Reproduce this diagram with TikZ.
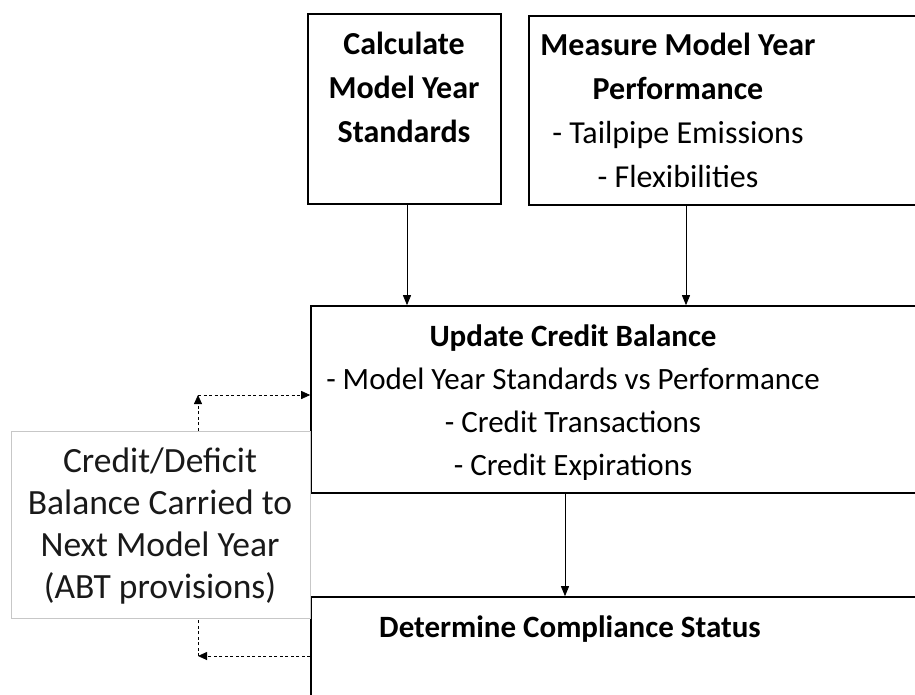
\documentclass[tikz,border=0pt]{standalone}
\usepackage{fontspec}
\setmainfont{Carlito}
\usetikzlibrary{arrows.meta}

\tikzset{
    box/.style={draw, line width=1.6pt, inner sep=0pt},
    notebox/.style={draw=black!22, line width=0.8pt, inner sep=0pt},
    toptext/.style={font=\fontsize{32}{44}\selectfont, align=center, inner sep=0pt, anchor=base},
    midtext/.style={font=\fontsize{31}{43}\selectfont, align=center, inner sep=0pt, anchor=base},
    notetext/.style={font=\fontsize{35.5}{42}\selectfont, align=center, inner sep=0pt, anchor=base, text=black!90},
    flow/.style={-{Triangle[length=10pt,width=8pt]}, line width=0.8pt},
    carry/.style={dashed, line width=0.8pt, dash pattern=on 3pt off 2.5pt}
}

\begin{document}
\begin{tikzpicture}[x=1pt, y=-1pt]

    \useasboundingbox (0,0) rectangle (915,694);
    \clip (0,0) rectangle (915,694);

    % boxes
    \node[box, minimum width=193, minimum height=190] (calc) at (404.5,109) {};
    \node[box, minimum width=401, minimum height=189] (meas) at (729.5,110.5) {};
    \node[box, minimum width=619, minimum height=187] (upd) at (620.5,399.5) {};
    \node[box, minimum width=619, minimum height=123] (comp) at (620.5,658.5) {};
    \node[notebox, minimum width=299, minimum height=187] (carry) at (160.5,524.5) {};

    % texts (anchored at the baseline of the last line)
    \node[toptext] (calctxt) at (404,142) {\bfseries Calculate\\\bfseries Model Year\\\bfseries Standards};
    \node[toptext] (meastxt) at (678,187) {\bfseries Measure Model Year\\\bfseries Performance\\- Tailpipe Emissions\\- Flexibilities};
    \node[midtext] (updtxt) at (573,475) {\bfseries Update Credit Balance\\- Model Year Standards vs Performance\\- Credit Transactions\\- Credit Expirations};
    \node[midtext] (comptxt) at (570,637) {\bfseries Determine Compliance Status};
    \node[notetext] (carrytxt) at (160,598) {Credit/Deficit\\Balance Carried to\\Next Model Year\\(ABT provisions)};

    % solid connectors
    \draw[flow] (calc.south -| 407,0) -- (upd.north -| 407,0);
    \draw[flow] (meas.south -| 686,0) -- (upd.north -| 686,0);
    \draw[flow] (upd.south -| 565,0) -- (comp.north -| 565,0);

    % dashed carry-over loop
    \coordinate (up) at (198,395);
    \coordinate (dn) at (198,656);
    \draw[carry, -{Triangle[length=9pt,width=8pt]}] (carry.north -| up) -- (up);
    \draw[carry, -{Triangle[length=9pt,width=8pt]}] (up) -- (up -| upd.west);
    \draw[carry, -{Triangle[length=9pt,width=8pt]}] (dn -| comp.west) -- (dn);
    \draw[carry] (dn) -- (carry.south -| dn);

\end{tikzpicture}
\end{document}
